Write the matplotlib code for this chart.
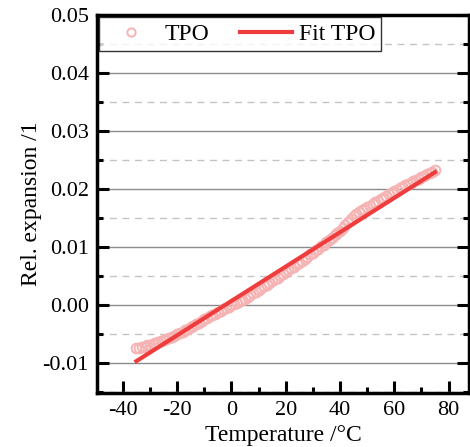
import matplotlib
matplotlib.use('Agg')
import matplotlib.pyplot as plt
from matplotlib.ticker import MultipleLocator

# measured data (temperature in degC, relative expansion)
temp = [-35, -34, -33, -32, -31, -30, -29, -28, -27, -26, -25, -24, -23, -22, -21,
        -20, -19, -18, -17, -16, -15, -14, -13, -12, -11, -10, -9, -8, -7, -6,
        -5, -4, -3, -2, -1, 0, 1, 2, 3, 4, 5, 6, 7, 8, 9,
        10, 11, 12, 13, 14, 15, 16, 17, 18, 19, 20, 21, 22, 23, 24,
        25, 26, 27, 28, 29, 30, 31, 32, 33, 34, 35, 36, 37, 38, 39,
        40, 41, 42, 43, 44, 45, 46, 47, 48, 49, 50, 51, 52, 53, 54,
        55, 56, 57, 58, 59, 60, 61, 62, 63, 64, 65, 66, 67, 68, 69,
        70, 71, 72, 73, 74, 75]
expansion = [-0.0075, -0.0074, -0.0073, -0.0072, -0.0070, -0.0069, -0.0067, -0.0066, -0.0064, -0.0063,
             -0.0061, -0.0059, -0.0057, -0.0055, -0.0053, -0.0051, -0.0048, -0.0046, -0.0043, -0.0041,
             -0.0038, -0.0036, -0.0033, -0.0031, -0.0028, -0.0025, -0.0023, -0.0020, -0.0017, -0.0015,
             -0.0012, -0.0010, -0.0007, -0.0005, -0.0003, -0.0001, 0.0001, 0.0004, 0.0006, 0.0008,
             0.0011, 0.0014, 0.0017, 0.0020, 0.0023, 0.0026, 0.0029, 0.0032, 0.0035, 0.0038,
             0.0041, 0.0044, 0.0047, 0.0051, 0.0054, 0.0057, 0.0060, 0.0063, 0.0066, 0.0070,
             0.0073, 0.0076, 0.0080, 0.0083, 0.0087, 0.0090, 0.0094, 0.0097, 0.0101, 0.0104,
             0.0108, 0.0112, 0.0116, 0.0120, 0.0124, 0.0128, 0.0133, 0.0138, 0.0143, 0.0148,
             0.0153, 0.0157, 0.0160, 0.0163, 0.0166, 0.0168, 0.0171, 0.0174, 0.0177, 0.0180,
             0.0182, 0.0185, 0.0188, 0.0191, 0.0193, 0.0196, 0.0199, 0.0201, 0.0204, 0.0206,
             0.0209, 0.0211, 0.0213, 0.0216, 0.0218, 0.0221, 0.0223, 0.0225, 0.0227, 0.0230,
             0.0232]

# linear fit, end points
fit_t = [-35, 75]
fit_v = [-0.0097, 0.0229]

plt.rcParams['font.family'] = 'Liberation Serif'
plt.rcParams['font.size'] = 16
plt.rcParams['axes.unicode_minus'] = False

fig = plt.figure(figsize=(4.7, 4.47), dpi=100)
ax = fig.add_axes([0.2064, 0.1208, 0.7915, 0.8456])

ax.plot(temp, expansion, 'o', mfc='none', mec='#f6b3b3', ms=7, mew=1.4, label='TPO')
ax.plot(fit_t, fit_v, '-', color='#ef3d3d', lw=3, label='Fit TPO')

ax.set_xlim(-49.5, 87.5)
ax.set_ylim(-0.0152, 0.05)
ax.xaxis.set_major_locator(MultipleLocator(20))
ax.xaxis.set_minor_locator(MultipleLocator(10))
ax.yaxis.set_major_locator(MultipleLocator(0.01))
ax.yaxis.set_minor_locator(MultipleLocator(0.005))
ax.yaxis.set_major_formatter(matplotlib.ticker.FormatStrFormatter('%.2f'))

ax.grid(axis='y', which='major', color='#8c8c8c', lw=1, ls='-')
ax.grid(axis='y', which='minor', color='#c4c4c4', lw=1, ls=(0, (5, 4)))
ax.set_axisbelow(True)

ax.tick_params(which='both', direction='in', right=True, top=False, width=2.2)
ax.tick_params(which='major', length=8.5, pad=6)
ax.tick_params(which='minor', length=4)
for s in ax.spines.values():
    s.set_linewidth(2.5)

ax.set_xlabel('Temperature /°C', fontsize=17, labelpad=3)
ax.set_ylabel('Rel. expansion /1', fontsize=17, labelpad=0)

leg = ax.legend(loc='upper left', ncol=2, frameon=True, fancybox=False,
                edgecolor='black', borderaxespad=0.1, handlelength=2.2,
                columnspacing=1.3, handletextpad=0.3, borderpad=0.25,
                fontsize=17, markerscale=0.85)
leg.get_frame().set_linewidth(1)

fig.savefig('out.png', dpi=100)
